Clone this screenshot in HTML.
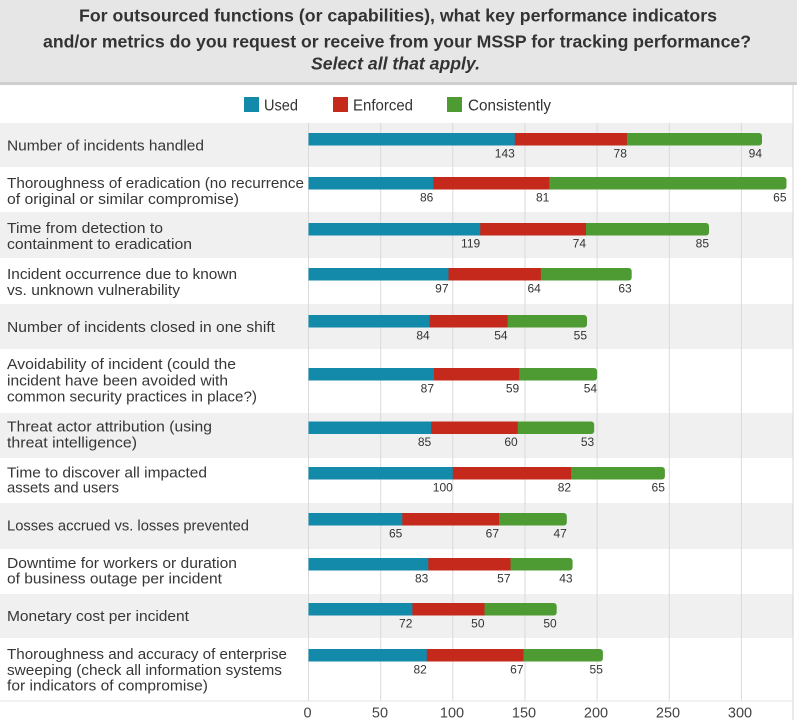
<!DOCTYPE html>
<html>
<head>
<meta charset="utf-8">
<style>
  html,body{margin:0;padding:0;background:#ffffff;}
  svg{display:block;}
  text{font-family:"Liberation Sans",sans-serif;}
</style>
</head>
<body>
<svg width="797" height="720" viewBox="0 0 797 720" xmlns="http://www.w3.org/2000/svg">
  <!-- header -->
  <rect x="0" y="0" width="797" height="82" fill="#e6e6e6"/>
  <rect x="0" y="82" width="797" height="3" fill="#cfcfcf"/>
  <text x="79" y="21.5" font-size="17.5" font-weight="bold" fill="#333" textLength="638" lengthAdjust="spacingAndGlyphs">For outsourced functions (or capabilities), what key performance indicators</text>
  <text x="43" y="47.5" font-size="17.5" font-weight="bold" fill="#333" textLength="708" lengthAdjust="spacingAndGlyphs">and/or metrics do you request or receive from your MSSP for tracking performance?</text>
  <text x="311" y="69.5" font-size="17.5" font-weight="bold" font-style="italic" fill="#333" textLength="169" lengthAdjust="spacingAndGlyphs">Select all that apply.</text>

  <!-- legend -->
  <rect x="244" y="97" width="15" height="15" fill="#148aaa"/>
  <text x="264" y="110.5" font-size="15.5" fill="#333" textLength="34" lengthAdjust="spacingAndGlyphs">Used</text>
  <rect x="333" y="97" width="15" height="15" fill="#c4291c"/>
  <text x="353" y="110.5" font-size="15.5" fill="#333" textLength="60" lengthAdjust="spacingAndGlyphs">Enforced</text>
  <rect x="447" y="97" width="15" height="15" fill="#4f9b33"/>
  <text x="468" y="110.5" font-size="15.5" fill="#333" textLength="83" lengthAdjust="spacingAndGlyphs">Consistently</text>

  <!-- row backgrounds -->
  <g fill="#f0f0f0">
    <rect x="0" y="123" width="793" height="44"/>
    <rect x="0" y="212" width="793" height="46"/>
    <rect x="0" y="304" width="793" height="45"/>
    <rect x="0" y="413" width="793" height="45"/>
    <rect x="0" y="503" width="793" height="46"/>
    <rect x="0" y="594" width="793" height="44"/>
  </g>

  <!-- gridlines -->
  <g stroke="#dadada" stroke-width="1">
    <line x1="308.5" y1="123" x2="308.5" y2="701"/>
    <line x1="380.7" y1="123" x2="380.7" y2="701"/>
    <line x1="452.8" y1="123" x2="452.8" y2="701"/>
    <line x1="525" y1="123" x2="525" y2="701"/>
    <line x1="597.1" y1="123" x2="597.1" y2="701"/>
    <line x1="669.3" y1="123" x2="669.3" y2="701"/>
    <line x1="741.4" y1="123" x2="741.4" y2="701"/>
  </g>
  <line x1="0" y1="701" x2="793" y2="701" stroke="#e6e6e6" stroke-width="1"/>
  <line x1="793" y1="85" x2="793" y2="720" stroke="#d6d6d6" stroke-width="1"/>

  <!-- category labels -->
  <g font-size="15" fill="#363636">
    <text x="7" y="150.5" textLength="197" lengthAdjust="spacingAndGlyphs">Number of incidents handled</text>
    <text x="7" y="188" textLength="297" lengthAdjust="spacingAndGlyphs">Thoroughness of eradication (no recurrence</text>
    <text x="7" y="204" textLength="232" lengthAdjust="spacingAndGlyphs">of original or similar compromise)</text>
    <text x="7" y="233" textLength="156" lengthAdjust="spacingAndGlyphs">Time from detection to</text>
    <text x="7" y="249" textLength="185" lengthAdjust="spacingAndGlyphs">containment to eradication</text>
    <text x="7" y="279" textLength="230" lengthAdjust="spacingAndGlyphs">Incident occurrence due to known</text>
    <text x="7" y="295" textLength="173" lengthAdjust="spacingAndGlyphs">vs. unknown vulnerability</text>
    <text x="7" y="332" textLength="268" lengthAdjust="spacingAndGlyphs">Number of incidents closed in one shift</text>
    <text x="7" y="369" textLength="229" lengthAdjust="spacingAndGlyphs">Avoidability of incident (could the</text>
    <text x="7" y="385.5" textLength="221" lengthAdjust="spacingAndGlyphs">incident have been avoided with</text>
    <text x="7" y="401.5" textLength="250" lengthAdjust="spacingAndGlyphs">common security practices in place?)</text>
    <text x="7" y="431.5" textLength="205" lengthAdjust="spacingAndGlyphs">Threat actor attribution (using</text>
    <text x="7" y="447.5" textLength="130" lengthAdjust="spacingAndGlyphs">threat intelligence)</text>
    <text x="7" y="477.5" textLength="200" lengthAdjust="spacingAndGlyphs">Time to discover all impacted</text>
    <text x="7" y="492.5" textLength="112" lengthAdjust="spacingAndGlyphs">assets and users</text>
    <text x="7" y="530.5" textLength="242" lengthAdjust="spacingAndGlyphs">Losses accrued vs. losses prevented</text>
    <text x="7" y="568" textLength="230" lengthAdjust="spacingAndGlyphs">Downtime for workers or duration</text>
    <text x="7" y="583.5" textLength="215" lengthAdjust="spacingAndGlyphs">of business outage per incident</text>
    <text x="7" y="621" textLength="182" lengthAdjust="spacingAndGlyphs">Monetary cost per incident</text>
    <text x="7" y="659" textLength="280" lengthAdjust="spacingAndGlyphs">Thoroughness and accuracy of enterprise</text>
    <text x="7" y="675" textLength="275" lengthAdjust="spacingAndGlyphs">sweeping (check all information systems</text>
    <text x="7" y="690.5" textLength="201" lengthAdjust="spacingAndGlyphs">for indicators of compromise)</text>
  </g>

  <!-- bars: green (rounded) full, then red, then blue -->
  <rect x="308.5" y="133" width="453.5" height="12.5" rx="3" fill="#4f9b33"/>
  <rect x="308.5" y="133" width="318.4" height="12.5" fill="#c4291c"/>
  <rect x="308.5" y="133" width="206.3" height="12.5" fill="#148aaa"/>

  <rect x="308.5" y="177" width="478" height="12.5" rx="3" fill="#4f9b33"/>
  <rect x="308.5" y="177" width="240.8" height="12.5" fill="#c4291c"/>
  <rect x="308.5" y="177" width="124.8" height="12.5" fill="#148aaa"/>

  <rect x="308.5" y="223" width="400.5" height="12.5" rx="3" fill="#4f9b33"/>
  <rect x="308.5" y="223" width="277.5" height="12.5" fill="#c4291c"/>
  <rect x="308.5" y="223" width="171.7" height="12.5" fill="#148aaa"/>

  <rect x="308.5" y="268" width="323.2" height="12.5" rx="3" fill="#4f9b33"/>
  <rect x="308.5" y="268" width="232.3" height="12.5" fill="#c4291c"/>
  <rect x="308.5" y="268" width="140" height="12.5" fill="#148aaa"/>

  <rect x="308.5" y="315" width="278.5" height="12.5" rx="3" fill="#4f9b33"/>
  <rect x="308.5" y="315" width="199.1" height="12.5" fill="#c4291c"/>
  <rect x="308.5" y="315" width="121.2" height="12.5" fill="#148aaa"/>

  <rect x="308.5" y="368" width="288.6" height="12.5" rx="3" fill="#4f9b33"/>
  <rect x="308.5" y="368" width="210.7" height="12.5" fill="#c4291c"/>
  <rect x="308.5" y="368" width="125.5" height="12.5" fill="#148aaa"/>

  <rect x="308.5" y="421.5" width="285.7" height="12.5" rx="3" fill="#4f9b33"/>
  <rect x="308.5" y="421.5" width="209.2" height="12.5" fill="#c4291c"/>
  <rect x="308.5" y="421.5" width="122.7" height="12.5" fill="#148aaa"/>

  <rect x="308.5" y="467" width="356.4" height="12.5" rx="3" fill="#4f9b33"/>
  <rect x="308.5" y="467" width="262.6" height="12.5" fill="#c4291c"/>
  <rect x="308.5" y="467" width="144.3" height="12.5" fill="#148aaa"/>

  <rect x="308.5" y="513" width="258.3" height="12.5" rx="3" fill="#4f9b33"/>
  <rect x="308.5" y="513" width="190.5" height="12.5" fill="#c4291c"/>
  <rect x="308.5" y="513" width="93.8" height="12.5" fill="#148aaa"/>

  <rect x="308.5" y="558" width="264.1" height="12.5" rx="3" fill="#4f9b33"/>
  <rect x="308.5" y="558" width="202" height="12.5" fill="#c4291c"/>
  <rect x="308.5" y="558" width="119.8" height="12.5" fill="#148aaa"/>

  <rect x="308.5" y="603" width="248.2" height="12.5" rx="3" fill="#4f9b33"/>
  <rect x="308.5" y="603" width="176" height="12.5" fill="#c4291c"/>
  <rect x="308.5" y="603" width="103.9" height="12.5" fill="#148aaa"/>

  <rect x="308.5" y="649" width="294.4" height="12.5" rx="3" fill="#4f9b33"/>
  <rect x="308.5" y="649" width="215" height="12.5" fill="#c4291c"/>
  <rect x="308.5" y="649" width="118.3" height="12.5" fill="#148aaa"/>

  <!-- value labels -->
  <g font-size="12" fill="#333" text-anchor="end">
    <text x="514.8" y="157.5">143</text><text x="626.9" y="157.5">78</text><text x="762" y="157.5">94</text>
    <text x="433.3" y="201.5">86</text><text x="549.3" y="201.5">81</text><text x="786.5" y="201.5">65</text>
    <text x="480.2" y="247.5">119</text><text x="586" y="247.5">74</text><text x="709" y="247.5">85</text>
    <text x="448.5" y="292.5">97</text><text x="540.8" y="292.5">64</text><text x="631.7" y="292.5">63</text>
    <text x="429.7" y="339.5">84</text><text x="507.6" y="339.5">54</text><text x="587" y="339.5">55</text>
    <text x="434" y="392.5">87</text><text x="519.2" y="392.5">59</text><text x="597.1" y="392.5">54</text>
    <text x="431.2" y="446">85</text><text x="517.7" y="446">60</text><text x="594.2" y="446">53</text>
    <text x="452.8" y="491.5">100</text><text x="571.1" y="491.5">82</text><text x="664.9" y="491.5">65</text>
    <text x="402.3" y="537.5">65</text><text x="499" y="537.5">67</text><text x="566.8" y="537.5">47</text>
    <text x="428.3" y="582.5">83</text><text x="510.5" y="582.5">57</text><text x="572.6" y="582.5">43</text>
    <text x="412.4" y="627.5">72</text><text x="484.5" y="627.5">50</text><text x="556.7" y="627.5">50</text>
    <text x="426.8" y="673.5">82</text><text x="523.5" y="673.5">67</text><text x="602.9" y="673.5">55</text>
  </g>

  <!-- x-axis tick labels -->
  <g font-size="14.5" fill="#444" text-anchor="middle">
    <text x="307.5" y="717.5">0</text>
    <text x="380" y="717.5">50</text>
    <text x="452" y="717.5">100</text>
    <text x="524" y="717.5">150</text>
    <text x="596" y="717.5">200</text>
    <text x="668" y="717.5">250</text>
    <text x="740" y="717.5">300</text>
  </g>
</svg>
</body>
</html>
